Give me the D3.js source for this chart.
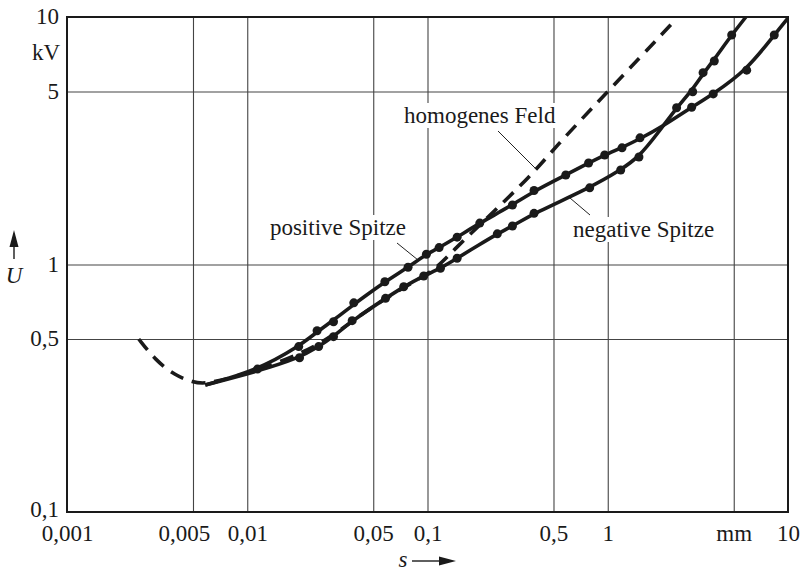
<!DOCTYPE html>
<html>
<head>
<meta charset="utf-8">
<script src="https://cdn.jsdelivr.net/npm/d3@7"></script>
<style>
	body { margin: 0; background: #fff; }
	svg { display: block; font-family: 'Liberation Serif', 'Times New Roman', serif; }
</style>
</head>
<body>
<div class="chart"></div>
<script>
const WIDTH = 800;
const HEIGHT = 571;
const MARGIN = { top: 17, right: 12, bottom: 59, left: 67 };
const FONT = 23;

// axis ticks
const xTicks = [0.001, 0.005, 0.01, 0.05, 0.1, 0.5, 1, 5, 10];
const xTickLabels = ['0,001', '0,005', '0,01', '0,05', '0,1', '0,5', '1', 'mm', '10'];
const yTicks = [0.1, 0.5, 1, 5, 10];
const yTickLabels = ['0,1', '0,5', '1', '5', '10'];
const xGrid = [0.005, 0.01, 0.05, 0.1, 0.5, 1, 5];
const yGrid = [0.5, 1, 5];

// positive Spitze (s in mm, U in kV)
const posS = [0.00585, 0.0114, 0.0193, 0.0244, 0.0301, 0.039, 0.048, 0.058, 0.078, 0.0986, 0.116, 0.146, 0.195, 0.296, 0.39, 0.585, 0.783, 0.962, 1.2, 1.51, 2.0, 2.92, 3.85, 5.9, 8.39, 10];
const posU = [0.326, 0.375, 0.466, 0.535, 0.595, 0.69, 0.77, 0.85, 0.975, 1.1, 1.17, 1.29, 1.47, 1.74, 1.98, 2.3, 2.57, 2.77, 2.97, 3.22, 3.6, 4.32, 4.89, 6.1, 8.46, 9.9];
const posDotS = [0.0114, 0.0193, 0.0244, 0.0301, 0.039, 0.058, 0.078, 0.0986, 0.116, 0.146, 0.195, 0.296, 0.39, 0.585, 0.783, 0.962, 1.2, 1.51, 2.92, 3.85, 5.9, 8.39];
const posDotU = [0.378, 0.466, 0.54, 0.587, 0.7, 0.852, 0.975, 1.1, 1.17, 1.29, 1.47, 1.74, 1.99, 2.3, 2.57, 2.77, 2.96, 3.25, 4.32, 4.89, 6.1, 8.46];

// negative Spitze
const negS = [0.00585, 0.0114, 0.0195, 0.0249, 0.0301, 0.0382, 0.0585, 0.0738, 0.0953, 0.118, 0.146, 0.193, 0.244, 0.296, 0.39, 0.794, 1.18, 1.49, 1.9, 2.41, 2.96, 3.38, 3.9, 4.87, 5.84];
const negU = [0.326, 0.37, 0.42, 0.466, 0.511, 0.593, 0.73, 0.813, 0.899, 0.966, 1.06, 1.2, 1.33, 1.43, 1.61, 2.04, 2.41, 2.72, 3.4, 4.3, 5.1, 5.9, 6.75, 8.46, 10];
const negDotS = [0.0195, 0.0249, 0.0301, 0.0382, 0.0585, 0.0738, 0.0953, 0.118, 0.146, 0.244, 0.296, 0.39, 0.794, 1.18, 1.49, 2.41, 2.96, 3.38, 3.9, 4.87];
const negDotU = [0.42, 0.466, 0.511, 0.593, 0.73, 0.813, 0.899, 0.966, 1.06, 1.33, 1.43, 1.61, 2.04, 2.41, 2.72, 4.3, 4.99, 5.96, 6.64, 8.46];

// homogenes Feld (dashed)
const homS = [0.0025, 0.0031, 0.004, 0.005, 0.0059, 0.0114, 0.0249, 0.0382, 0.0585, 0.0953, 0.114, 0.139, 0.2, 0.388, 0.5, 1, 2.3];
const homU = [0.5, 0.41, 0.355, 0.335, 0.327, 0.372, 0.466, 0.593, 0.73, 0.899, 0.977, 1.14, 1.47, 2.34, 2.93, 5, 9.5];

const svg = d3
	.select('.chart')
	.append('svg')
	.attr('width', WIDTH)
	.attr('height', HEIGHT);

const xScale = d3
	.scaleLog()
	.domain([0.001, 10])
	.range([MARGIN.left, WIDTH - MARGIN.right]);

const yScale = d3
	.scaleLog()
	.domain([0.1, 10])
	.range([HEIGHT - MARGIN.bottom, MARGIN.top]);

const plotW = WIDTH - MARGIN.left - MARGIN.right;
const plotH = HEIGHT - MARGIN.top - MARGIN.bottom;

// grid lines
svg.append('g')
	.attr('transform', `translate(0, ${HEIGHT - MARGIN.bottom})`)
	.call(d3.axisBottom(xScale).tickValues(xGrid).tickSize(-plotH).tickFormat(''))
	.call(g => g.select('.domain').remove())
	.selectAll('line')
	.attr('stroke', '#444')
	.attr('stroke-width', 1.1);

svg.append('g')
	.attr('transform', `translate(${MARGIN.left}, 0)`)
	.call(d3.axisLeft(yScale).tickValues(yGrid).tickSize(-plotW).tickFormat(''))
	.call(g => g.select('.domain').remove())
	.selectAll('line')
	.attr('stroke', '#444')
	.attr('stroke-width', 1.1);

// labels with white background (they cut the grid lines)
function label(txt, x, y, anchor) {
	const g = svg.append('g');
	const t = g.append('text')
		.attr('x', x)
		.attr('y', y)
		.attr('text-anchor', anchor || 'start')
		.attr('font-size', FONT)
		.attr('fill', '#1a1a1a')
		.text(txt);
	const b = t.node().getBBox();
	g.insert('rect', 'text')
		.attr('x', b.x - 3)
		.attr('y', b.y)
		.attr('width', b.width + 6)
		.attr('height', b.height)
		.attr('fill', '#fff');
	return g;
}

label('homogenes Feld', 404, 123);
label('positive Spitze', 406, 235, 'end');
label('negative Spitze', 573, 237);

// leader lines
const leaders = [[498, 131, 535, 168], [397, 243, 418, 260], [590, 215, 570, 198]];
svg.append('g')
	.selectAll('line')
	.data(leaders)
	.enter()
	.append('line')
	.attr('x1', d => d[0])
	.attr('y1', d => d[1])
	.attr('x2', d => d[2])
	.attr('y2', d => d[3])
	.attr('stroke', '#222')
	.attr('stroke-width', 1);

// curves
const line = d3
	.line()
	.x(d => xScale(d[0]))
	.y(d => yScale(d[1]))
	.curve(d3.curveBasis);

svg.append('clipPath')
	.attr('id', 'plot')
	.append('rect')
	.attr('x', MARGIN.left)
	.attr('y', MARGIN.top)
	.attr('width', plotW)
	.attr('height', plotH);

const curves = svg.append('g').attr('clip-path', 'url(#plot)');

curves.append('path')
	.attr('d', line(d3.zip(homS, homU)))
	.attr('fill', 'none')
	.attr('stroke', '#1a1a1a')
	.attr('stroke-width', 3.6)
	.attr('stroke-dasharray', '14,9');

[[posS, posU], [negS, negU]].forEach(function(c) {
	curves.append('path')
		.attr('d', line(d3.zip(c[0], c[1])))
		.attr('fill', 'none')
		.attr('stroke', '#1a1a1a')
		.attr('stroke-width', 3.6)
		.attr('stroke-linejoin', 'round');
});

const dots = d3.zip(posDotS, posDotU).concat(d3.zip(negDotS, negDotU));
curves.selectAll('circle')
	.data(dots)
	.enter()
	.append('circle')
	.attr('cx', d => xScale(d[0]))
	.attr('cy', d => yScale(d[1]))
	.attr('r', 4.5)
	.attr('fill', '#1a1a1a');

// frame
svg.append('rect')
	.attr('x', MARGIN.left)
	.attr('y', MARGIN.top)
	.attr('width', plotW)
	.attr('height', plotH)
	.attr('fill', 'none')
	.attr('stroke', '#1a1a1a')
	.attr('stroke-width', 2);

// tick labels
const xAxis = svg.append('g')
	.attr('transform', `translate(0, ${HEIGHT - MARGIN.bottom})`)
	.call(d3.axisBottom(xScale).tickValues(xTicks).tickSize(0).tickFormat((d, i) => xTickLabels[i]))
	.attr('font-family', null)
	.attr('font-size', FONT);
xAxis.select('.domain').remove();
xAxis.selectAll('text')
	.attr('y', 29)
	.attr('dy', null)
	.attr('dx', (d, i) => (xTickLabels[i] === '0,005' ? -9 : 0))
	.attr('fill', '#1a1a1a');

const yAxis = svg.append('g')
	.attr('transform', `translate(${MARGIN.left}, 0)`)
	.call(d3.axisLeft(yScale).tickValues(yTicks).tickSize(0).tickFormat((d, i) => yTickLabels[i]))
	.attr('font-family', null)
	.attr('font-size', FONT);
yAxis.select('.domain').remove();
yAxis.selectAll('text')
	.attr('x', -8)
	.attr('dy', (d, i) => (i === 0 ? '0.2em' : '0.3em'))
	.attr('fill', '#1a1a1a');

// unit kV
svg.append('text')
	.attr('x', MARGIN.left - 7)
	.attr('y', yScale(7.2))
	.attr('dy', '0.33em')
	.attr('text-anchor', 'end')
	.attr('font-size', FONT)
	.attr('fill', '#1a1a1a')
	.text('kV');

// axis names with arrows
svg.append('text')
	.attr('x', 14)
	.attr('y', 283)
	.attr('text-anchor', 'middle')
	.attr('font-size', FONT)
	.attr('font-style', 'italic')
	.attr('fill', '#1a1a1a')
	.text('U');
svg.append('line')
	.attr('x1', 14).attr('y1', 259)
	.attr('x2', 14).attr('y2', 244)
	.attr('stroke', '#1a1a1a')
	.attr('stroke-width', 1.4);
svg.append('path')
	.attr('d', 'M9.5,247 L18.5,247 L14,230 Z')
	.attr('fill', '#1a1a1a');

svg.append('text')
	.attr('x', 403)
	.attr('y', 567)
	.attr('text-anchor', 'middle')
	.attr('font-size', FONT)
	.attr('font-style', 'italic')
	.attr('fill', '#1a1a1a')
	.text('s');
svg.append('line')
	.attr('x1', 412).attr('y1', 561)
	.attr('x2', 443).attr('y2', 561)
	.attr('stroke', '#1a1a1a')
	.attr('stroke-width', 1.4);
svg.append('path')
	.attr('d', 'M439,556.5 L439,565.5 L456,561 Z')
	.attr('fill', '#1a1a1a');
</script>
</body>
</html>
